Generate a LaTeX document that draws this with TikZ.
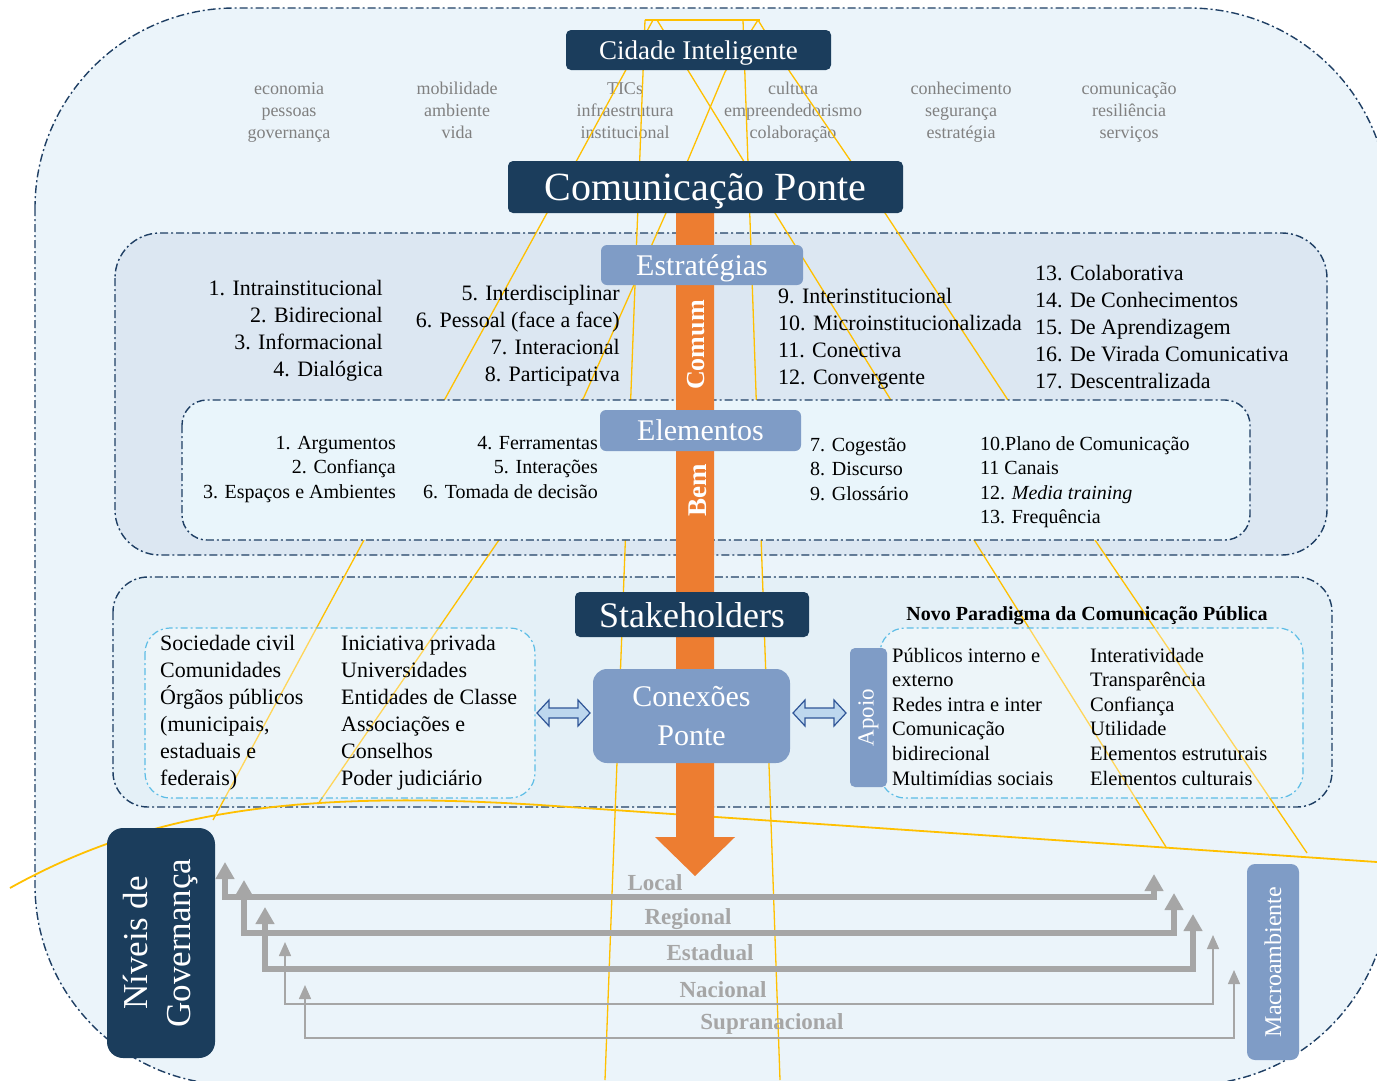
\documentclass[tikz,border=0pt]{standalone}
\usepackage{fontspec}
\setmainfont{Liberation Serif}
\usetikzlibrary{arrows.meta}
\definecolor{navy}{HTML}{1B3D5C}
\definecolor{midblue}{HTML}{7F9CC6}
\definecolor{orangebar}{HTML}{ED7D31}
\definecolor{pagebg}{HTML}{EBF4FA}
\definecolor{stratbg}{HTML}{DCE7F2}
\definecolor{elembg}{HTML}{E9F5FB}
\definecolor{stakebg}{HTML}{E4F0F7}
\definecolor{frame}{HTML}{1F3F64}
\definecolor{skyframe}{HTML}{5DBDE6}
\definecolor{bridge}{HTML}{FFC000}
\definecolor{softgray}{HTML}{808080}
\definecolor{levelgray}{HTML}{A6A6A6}
\definecolor{arrowfill}{HTML}{BDD7EE}
\definecolor{arrowline}{HTML}{2F5597}

\begin{document}
\begin{tikzpicture}[x=1pt,y=-1pt,
  dashdot/.style={dash pattern=on 8pt off 3pt on 2pt off 3pt, line width=1.4pt},
  panel/.style={dashdot, draw=frame},
  innerpanel/.style={dash pattern=on 7pt off 3pt on 2pt off 3pt, line width=1.2pt, draw=skyframe, fill=white, fill opacity=0.35, draw opacity=1},
  darkbox/.style={fill=navy, text=white, rounded corners=5pt, inner sep=0pt, text depth=0pt},
  bluebox/.style={fill=midblue, text=white, rounded corners=6pt, inner sep=0pt},
  stxt/.style={font=\fontsize{22}{26}\selectfont, inner sep=0pt},
  etxt/.style={font=\fontsize{20}{24}\selectfont, inner sep=0pt},
  ktxt/.style={font=\fontsize{22}{26}\selectfont, inner sep=0pt, anchor=base west},
  ptxt/.style={font=\fontsize{20.5}{24}\selectfont, inner sep=0pt, anchor=base west},
  toptxt/.style={font=\fontsize{18}{22}\selectfont, text=softgray, inner sep=0pt, anchor=base},
  lvltxt/.style={font=\fontsize{23}{27}\selectfont\bfseries, text=levelgray, inner sep=0pt, anchor=base},
  cable/.style={draw=bridge, line width=1.3pt},
  thicklvl/.style={draw=levelgray, line width=6pt, {Triangle[length=17pt,width=18pt]}-{Triangle[length=17pt,width=18pt]}},
  thinlvl/.style={draw=levelgray, line width=1.5pt, {Triangle[length=14pt,width=12pt]}-{Triangle[length=14pt,width=12pt]}},
  duoarrow/.style={fill=arrowfill, draw=arrowline, line width=1.2pt, line join=miter}
]
\useasboundingbox (0,0) rectangle (1377,1080);
\begin{scope}
\clip (0,0) rectangle (1377,1080);

% outer frame
\path[fill=pagebg, draw=frame, dashdot, rounded corners=200pt] (35,8) rectangle (1389,1085);

% panels
\path[panel, fill=stratbg, rounded corners=45pt] (115,233) rectangle (1327,555);
\path[panel, fill=stakebg, rounded corners=35pt] (113,577) rectangle (1332,807);

% smart city themes
\foreach \a/\b/\c [count=\i] in {economia/pessoas/governança, mobilidade/ambiente/vida, TICs/infraestrutura/institucional, cultura/empreendedorismo/colaboração, conhecimento/segurança/estratégia, comunicação/resiliência/serviços}{
  \node[toptxt] (top-\i-a) at ({121+168*\i},94) {\a};
  \node[toptxt] (top-\i-b) at ({121+168*\i},116) {\b};
  \node[toptxt] (top-\i-c) at ({121+168*\i},138) {\c};
}

% bridge drawing: pylons, cables and deck
\draw[cable] (645,20) -- (760,20);
\draw[cable] (645,20) -- (605,1080);
\draw[cable] (743,20) -- (780,1080);
\draw[cable] (653,20) -- (577,160) -- (547,213) -- (446,397) -- (364,540) -- (213,820);
\draw[cable] (758,20) -- (725,72) -- (688,160) -- (666,213) -- (584,397) -- (499,540) -- (318,804);
\draw[cable] (657,20) -- (689,72) -- (743,160) -- (775,213) -- (889,397) -- (974,540) -- (1166,847);
\draw[cable] (758,20) -- (790,72) -- (850,160) -- (885,213) -- (1006,397) -- (1095,540) -- (1307,853);
\draw[draw=bridge, line width=1.8pt] (10,888) .. controls (150,810) and (300,790) .. (540,805) -- (1377,862);

% elements panel
\path[panel, fill=elembg, rounded corners=25pt] (182,400) rectangle (1250,540);

% stakeholder groups
\path[innerpanel, rounded corners=25pt] (145,628) rectangle (535,798);
\path[innerpanel, rounded corners=25pt] (880,628) rectangle (1303,798);

% central arrow
\coordinate (barTop) at (695,213);
\coordinate (barTip) at (695,876);
\path[fill=orangebar] (676,213) -- (714,213) -- (714,837) -- (735,837) -- (barTip) -- (655,837) -- (676,837) -- cycle;

% main boxes
\node[darkbox, minimum width=265pt, minimum height=40pt, font=\fontsize{27}{30}\selectfont] (cidade) at (698.5,50) {Cidade Inteligente};
\node[darkbox, minimum width=395pt, minimum height=52pt, font=\fontsize{40}{44}\selectfont] (ponte) at (705.5,187) {Comunicação Ponte};
\node[bluebox, text depth=0pt, minimum width=202pt, minimum height=40pt, font=\fontsize{30}{34}\selectfont] (estrat) at (702,265) {Estratégias};
\node[bluebox, text depth=0pt, minimum width=201pt, minimum height=41pt, font=\fontsize{30}{34}\selectfont] (elem) at (700.5,430.5) {Elementos};
\node[darkbox, minimum width=234pt, minimum height=45pt, font=\fontsize{36}{40}\selectfont] (stake) at (692,614.5) {Stakeholders};
\node[bluebox, rounded corners=14pt, minimum width=197pt, minimum height=94pt, align=center, font=\fontsize{30}{39}\selectfont] (conex) at (691.5,716) {Conexões\\Ponte};
\node[rotate=90, text=white, inner sep=0pt, font=\fontsize{26}{30}\selectfont\bfseries] (comum) at (696,345) {Comum};
\node[rotate=90, text=white, inner sep=0pt, font=\fontsize{27}{30}\selectfont\bfseries] (bem) at (698,490) {Bem};

% support and context boxes
\node[bluebox, rounded corners=5pt, minimum width=37pt, minimum height=139pt] (apoio) at (868.5,717.5) {};
\node[rotate=90, text=white, inner sep=0pt, font=\fontsize{23}{26}\selectfont] (apoiot) at (apoio) {Apoio};
\node[darkbox, rounded corners=16pt, minimum width=108pt, minimum height=230pt] (niveis) at (161,943) {};
\node[rotate=90, text=white, inner sep=0pt, align=center, font=\fontsize{35}{43}\selectfont] (niveist) at (niveis) {Níveis de\\Governança};
\node[bluebox, rounded corners=8pt, minimum width=52pt, minimum height=196pt] (macro) at (1273,962) {};
\node[rotate=90, text=white, inner sep=0pt, font=\fontsize{24}{28}\selectfont] (macrot) at (macro) {Macroambiente};

% two-way arrows to the bridge connections
\coordinate (la) at (537,713);
\coordinate (lb) at (590,713);
\path[duoarrow] (la) -- ++(12,-13) -- ++(0,8) -- ++(29,0) -- ++(0,-8) -- (lb) -- ++(-12,13) -- ++(0,-8) -- ++(-29,0) -- ++(0,8) -- cycle;
\coordinate (ra) at (793,713);
\coordinate (rb) at (846,713);
\path[duoarrow] (ra) -- ++(12,-13) -- ++(0,8) -- ++(29,0) -- ++(0,-8) -- (rb) -- ++(-12,13) -- ++(0,-8) -- ++(-29,0) -- ++(0,8) -- cycle;

% strategies
\foreach \t [count=\i] in {1. Intrainstitucional, 2. Bidirecional, 3. Informacional, 4. Dialógica}
  \node[stxt, anchor=base east] (sa-\i) at (383,{295+27.3*(\i-1)}) {\t};
\foreach \t [count=\i] in {5. Interdisciplinar, 6. Pessoal (face a face), 7. Interacional, 8. Participativa}
  \node[stxt, anchor=base east] (sb-\i) at (620,{300+27.3*(\i-1)}) {\t};
\foreach \t [count=\i] in {9. Interinstitucional, 10. Microinstitucionalizada, 11. Conectiva, 12. Convergente}
  \node[stxt, anchor=base west] (sc-\i) at (778,{303+27.3*(\i-1)}) {\t};
\foreach \t [count=\i] in {13. Colaborativa, 14. De Conhecimentos, 15. De Aprendizagem, 16. De Virada Comunicativa, 17. Descentralizada}
  \node[stxt, anchor=base west] (sd-\i) at (1035,{280+27.2*(\i-1)}) {\t};

% elements
\foreach \t [count=\i] in {1. Argumentos, 2. Confiança, 3. Espaços e Ambientes}
  \node[etxt, anchor=base east] (ea-\i) at (396,{449+24.5*(\i-1)}) {\t};
\foreach \t [count=\i] in {4. Ferramentas, 5. Interações, 6. Tomada de decisão}
  \node[etxt, anchor=base east] (eb-\i) at (598,{449+24.5*(\i-1)}) {\t};
\foreach \t [count=\i] in {7. Cogestão, 8. Discurso, 9. Glossário}
  \node[etxt, anchor=base west] (ec-\i) at (810,{451+24.5*(\i-1)}) {\t};
\foreach \t [count=\i] in {10.Plano de Comunicação, 11 Canais, 12. \textit{Media training}, 13. Frequência}
  \node[etxt, anchor=base west] (ed-\i) at (980,{450+24.6*(\i-1)}) {\t};

% stakeholders
\foreach \t [count=\i] in {Sociedade civil, Comunidades, Órgãos públicos, {(municipais,}, estaduais e, federais)}
  \node[ktxt] (ka-\i) at (160,{650+27*(\i-1)}) {\t};
\foreach \t [count=\i] in {Iniciativa privada, Universidades, Entidades de Classe, Associações e, Conselhos, Poder judiciário}
  \node[ktxt] (kb-\i) at (341,{650+27*(\i-1)}) {\t};
\node[inner sep=0pt, anchor=base, font=\fontsize{20}{24}\selectfont\bfseries] (novo) at (1087,620) {Novo Paradigma da Comunicação Pública};
\foreach \t [count=\i] in {Públicos interno e, externo, Redes intra e inter, Comunicação, bidirecional, Multimídias sociais}
  \node[ptxt] (pa-\i) at (892,{662+24.6*(\i-1)}) {\t};
\foreach \t [count=\i] in {Interatividade, Transparência, Confiança, Utilidade, Elementos estruturais, Elementos culturais}
  \node[ptxt] (pb-\i) at (1090,{662+24.6*(\i-1)}) {\t};

% governance levels
\foreach \lx/\ltip/\ly/\rx/\rtip/\sty [count=\i] in {225/862/897/1154/874/thicklvl, 244/880/933/1174/893/thicklvl, 265/907/969/1193/914/thicklvl, 285/942/1004/1213/935/thinlvl, 305/985/1038/1234/970/thinlvl}{
  \coordinate (lv-\i-a) at (\lx,\ltip);
  \coordinate (lv-\i-b) at (\lx,\ly);
  \coordinate (lv-\i-c) at (\rx,\ly);
  \coordinate (lv-\i-d) at (\rx,\rtip);
  \draw[\sty] (lv-\i-a) -- (lv-\i-b) -- (lv-\i-c) -- (lv-\i-d);
}
\node[lvltxt] (lvl-1) at (655,890) {Local};
\node[lvltxt] (lvl-2) at (688,924) {Regional};
\node[lvltxt] (lvl-3) at (710,960) {Estadual};
\node[lvltxt] (lvl-4) at (723,997) {Nacional};
\node[lvltxt] (lvl-5) at (772,1029) {Supranacional};
\end{scope}
\end{tikzpicture}
\end{document}
